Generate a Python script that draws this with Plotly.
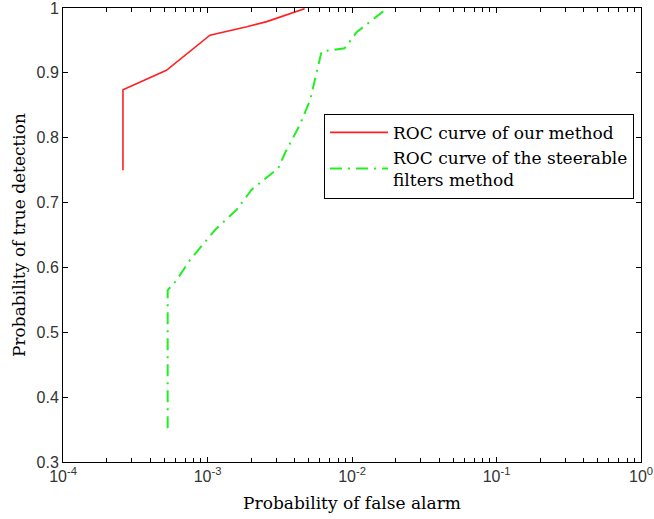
import plotly.graph_objects as go

# Data
ours_pfa = [2.6e-4, 2.6e-4, 5.2e-4, 1.04e-3, 1.87e-3, 2.57e-3, 4.7e-3]
ours_pd = [0.75, 0.874, 0.904, 0.958, 0.971, 0.979, 0.999]

steer_pfa = [5.3e-4, 5.3e-4, 6.0e-4, 7.6e-4, 1.13e-3, 1.59e-3, 2.02e-3, 3.09e-3,
             3.43e-3, 4.36e-3, 5.13e-3, 6.16e-3, 8.9e-3, 1.08e-2, 1.74e-2]
steer_pd = [0.352, 0.565, 0.578, 0.612, 0.658, 0.689, 0.720, 0.753,
            0.776, 0.820, 0.858, 0.933, 0.938, 0.963, 0.999]

x_tickvals = [1e-4, 1e-3, 1e-2, 1e-1, 1]
x_ticktext = ["10<sup>-4</sup>", "10<sup>-3</sup>", "10<sup>-2</sup>", "10<sup>-1</sup>", "10<sup>0</sup>"]
x_minor_vals = [m * d for d in [1e-4, 1e-3, 1e-2, 1e-1] for m in range(2, 10)]
y_tickvals = [0.3, 0.4, 0.5, 0.6, 0.7, 0.8, 0.9, 1.0]
y_ticktext = ["0.3", "0.4", "0.5", "0.6", "0.7", "0.8", "0.9", "1"]

names = ["ROC curve of our method", "ROC curve of the steerable<br>filters method"]

fig = go.Figure()
fig.add_trace(go.Scatter(x=ours_pfa, y=ours_pd, mode="lines", name=names[0],
                         line=dict(color="#ff2020", width=1.6)))
fig.add_trace(go.Scatter(x=steer_pfa, y=steer_pd, mode="lines", name=names[1],
                         line=dict(color="#22ee22", width=2, dash="12px,6px,2px,6px")))

serif = "DejaVu Serif"
sans = "Liberation Sans"

fig.update_layout(
    width=654, height=519,
    margin=dict(l=63, r=13, t=8, b=57),
    paper_bgcolor="white", plot_bgcolor="white",
    showlegend=True,
    legend=dict(x=0.4516, y=0.767, xanchor="left", yanchor="top",
                bgcolor="white", bordercolor="black", borderwidth=1,
                font=dict(family=serif, size=17, color="black"),
                tracegroupgap=0, itemwidth=58),
    xaxis=dict(type="log", range=[-4, 0], tickvals=x_tickvals, ticktext=x_ticktext,
               automargin=False, ticklabeloverflow="allow",
               ticks="inside", ticklen=5, tickcolor="black", showline=True,
               linecolor="black", linewidth=1, mirror="ticks", showgrid=False,
               zeroline=False,
               tickfont=dict(family=sans, size=16, color="#333"),
               minor=dict(tickmode="array", tickvals=x_minor_vals, ticks="inside",
                          ticklen=4, tickcolor="black", showgrid=False),
               title=dict(text="Probability of false alarm",
                          font=dict(family=serif, size=17, color="black"), standoff=12)),
    yaxis=dict(range=[0.3, 1], tickvals=y_tickvals, ticktext=y_ticktext,
               automargin=False, ticklabeloverflow="allow",
               ticks="inside", ticklen=5, tickcolor="black", showline=True,
               linecolor="black", linewidth=1, mirror="ticks", showgrid=False,
               zeroline=False,
               tickfont=dict(family=sans, size=16, color="#333"),
               title=dict(text="Probability of true detection",
                          font=dict(family=serif, size=17, color="black"), standoff=6)),
)

fig.write_html("out.html", config={"displayModeBar": False},
               post_script="document.body.style.margin='0';document.body.style.padding='0';")
